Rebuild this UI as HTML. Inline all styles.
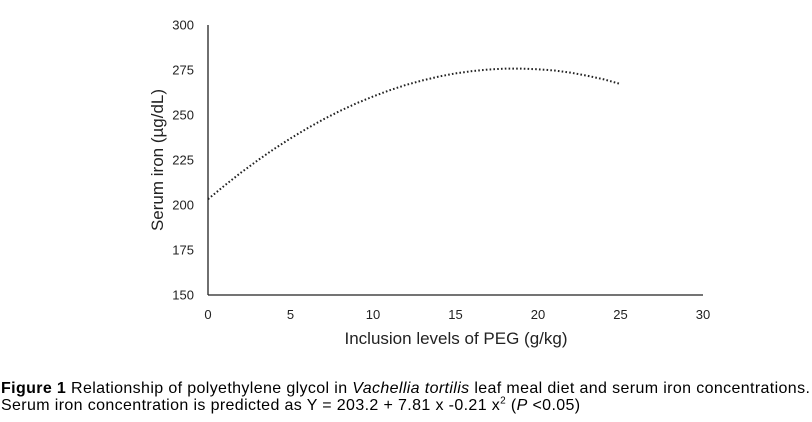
<!DOCTYPE html>
<html><head><meta charset="utf-8"><style>
body{margin:0;background:#fff;width:812px;height:422px;overflow:hidden;font-family:"Liberation Sans",sans-serif}
.cap{position:absolute;left:1px;font-size:16px;line-height:17px;letter-spacing:0.37px;color:#000;white-space:nowrap}
</style></head><body>
<svg id="chart" width="812" height="360" style="position:absolute;left:0;top:0" font-family="Liberation Sans, sans-serif">
<g id="axes"></g>
<g id="series"></g>
<text transform="translate(163,160) rotate(-90)" text-anchor="middle" font-size="17" fill="#222">Serum iron (µg/dL)</text>
<text x="456" y="344" text-anchor="middle" font-size="17" fill="#222">Inclusion levels of PEG (g/kg)</text>
</svg>
<div class="cap" style="top:380px"><b>Figure 1</b> Relationship of polyethylene glycol in <i>Vachellia tortilis</i> leaf meal diet and serum iron concentrations.</div>
<div class="cap" style="top:397px">Serum iron concentration is predicted as Y = 203.2 + 7.81 x -0.21 x<sup style="font-size:10px;line-height:0">2</sup> (<i>P</i> &lt;0.05)</div>
<script>
const xTicks=[0,5,10,15,20,25,30];
const yTicks=[150,175,200,225,250,275,300];
const xVals=[0,1,2,3,4,5,6,7,8,9,10,11,12,13,14,15,16,17,18,19,20,21,22,23,24,25];
const yVals=[203.2,210.8,218.0,224.7,231.1,237.0,242.5,247.6,252.3,256.5,260.3,263.7,266.7,269.2,271.4,273.1,274.4,275.3,275.8,275.8,275.4,274.7,273.5,271.8,269.8,267.2];
const X0=208,X1=703,Y0=295,Y1=25;
const sx=v=>X0+(v-0)/(30-0)*(X1-X0);
const sy=v=>Y0-(v-150)/(300-150)*(Y0-Y1);
const NS="http://www.w3.org/2000/svg";
const axes=document.getElementById('axes');
function mk(t,a,p){const e=document.createElementNS(NS,t);for(const k in a)e.setAttribute(k,a[k]);p.appendChild(e);return e;}
const ya=mk('line',{x1:X0,y1:Y1,x2:X0,y2:Y0,stroke:'#222','stroke-width':1.3},axes);


const xa=mk('line',{x1:X0,y1:Y0,x2:X1,y2:Y0,stroke:'#222','stroke-width':1.3},axes);


yTicks.forEach(v=>{const t=mk('text',{x:194,y:sy(v)+4.5,'text-anchor':'end','font-size':13,fill:'#222'},axes);t.textContent=v;

});
xTicks.forEach(v=>{const t=mk('text',{x:sx(v),y:319,'text-anchor':'middle','font-size':13,fill:'#222'},axes);t.textContent=v;

});
const d=xVals.map((x,i)=>(i?'L':'M')+sx(x).toFixed(1)+','+sy(yVals[i]).toFixed(1)).join(' ');
const p=mk('path',{d:d,fill:'none',stroke:'#222','stroke-width':2,'stroke-dasharray':'1.6 2.2'},document.getElementById('series'));


</script>
</body></html>
